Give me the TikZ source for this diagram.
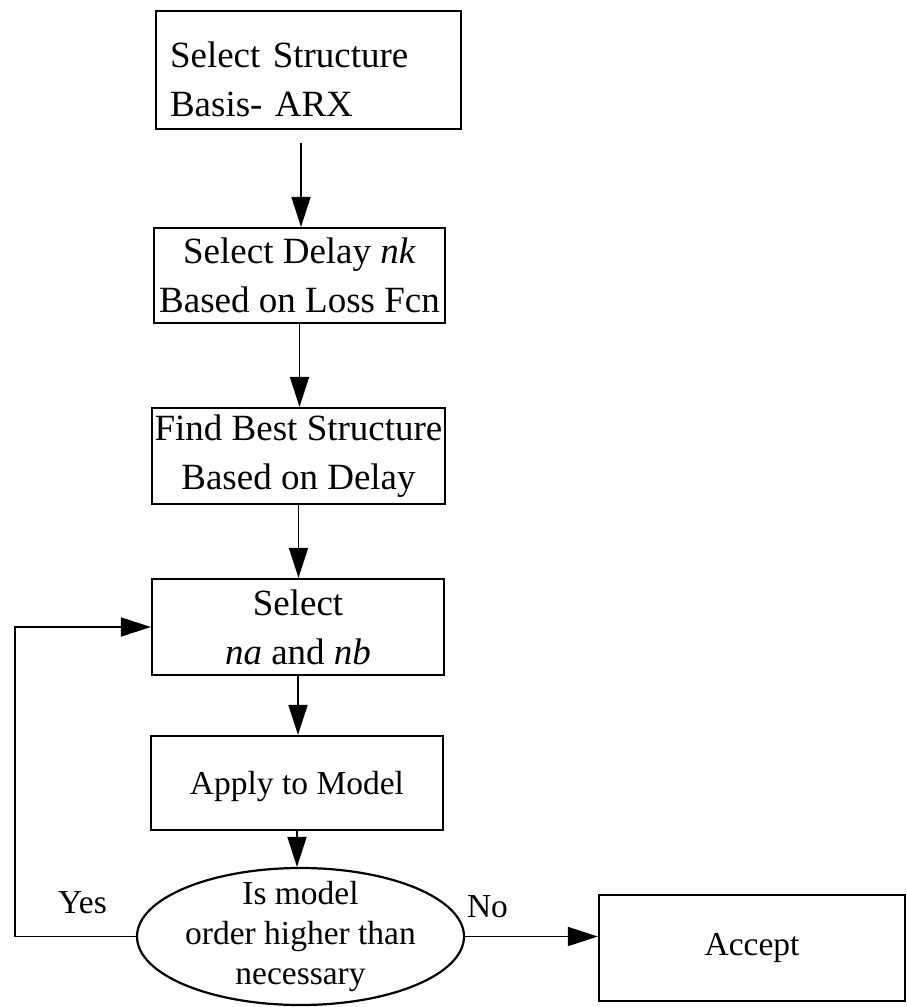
\documentclass[tikz,border=0pt]{standalone}
\usepackage{fontspec}
\setmainfont{Liberation Serif}
\usetikzlibrary{arrows.meta,shapes.geometric}
\begin{document}
\begin{tikzpicture}[x=1pt,y=-1pt,
  box/.style={draw, line width=2.2pt, inner sep=0pt, align=center, font=\fontsize{37}{49}\selectfont},
  sbox/.style={draw, line width=2.2pt, inner sep=0pt, align=center, font=\fontsize{33.5}{40}\selectfont},
  ell/.style={draw, ellipse, line width=2.2pt, inner sep=0pt},
  etext/.style={inner sep=0pt, align=center, font=\fontsize{33.5}{40}\selectfont},
  arr/.style={line width=1.8pt, -{Triangle[length=30pt,width=19pt]}},
  lbl/.style={font=\fontsize{33.5}{40}\selectfont, anchor=base, inner sep=0pt}]
\useasboundingbox (0,0) rectangle (907,1007);
\node[box, minimum width=305pt, minimum height=118pt, text width=277pt, align=left] (b1) at (308.5,70) {\rule{0pt}{45pt}Select Structure\\Basis- ARX};
\node[box, minimum width=291pt, minimum height=95pt] (b2) at (299.5,275.5) {Select Delay \textit{nk}\\Based on Loss Fcn};
\node[box, minimum width=293pt, minimum height=96pt] (b3) at (298.5,456) {Find Best Structure\\Based on Delay};
\node[box, minimum width=292pt, minimum height=96pt] (b4) at (298,627) {Select\\\textit{na} and \textit{nb}};
\node[sbox, minimum width=292pt, minimum height=94pt, text depth=0pt] (b5) at (297,783) {Apply to Model};
\node[ell, minimum width=327pt, minimum height=137pt] (e) at (300.5,936.5) {};
\node[etext] (et) at (e.center) {Is model\\order higher than\\necessary};
\node[sbox, minimum width=306pt, minimum height=106pt] (acc) at (752,948) {Accept};
\node[lbl] (yes) at (82.5,913) {Yes};
\node[lbl] (no) at (487.5,917) {No};
\coordinate (s1) at (301,143);
\coordinate (lp) at (15,936.5);
\draw[arr] (s1) -- (s1 |- b2.north);
\draw[arr] (b2.south) -- (b2.south |- b3.north);
\draw[arr] (b3.south) -- (b3.south |- b4.north);
\draw[arr] (b4.south) -- (b4.south |- b5.north);
\draw[arr] (b5.south) -- (b5.south |- e.north);
\draw[arr] (e.west) -- (lp) |- (b4.west);
\draw[arr] (e.east) -- (e.east -| acc.west);
\end{tikzpicture}
\end{document}
